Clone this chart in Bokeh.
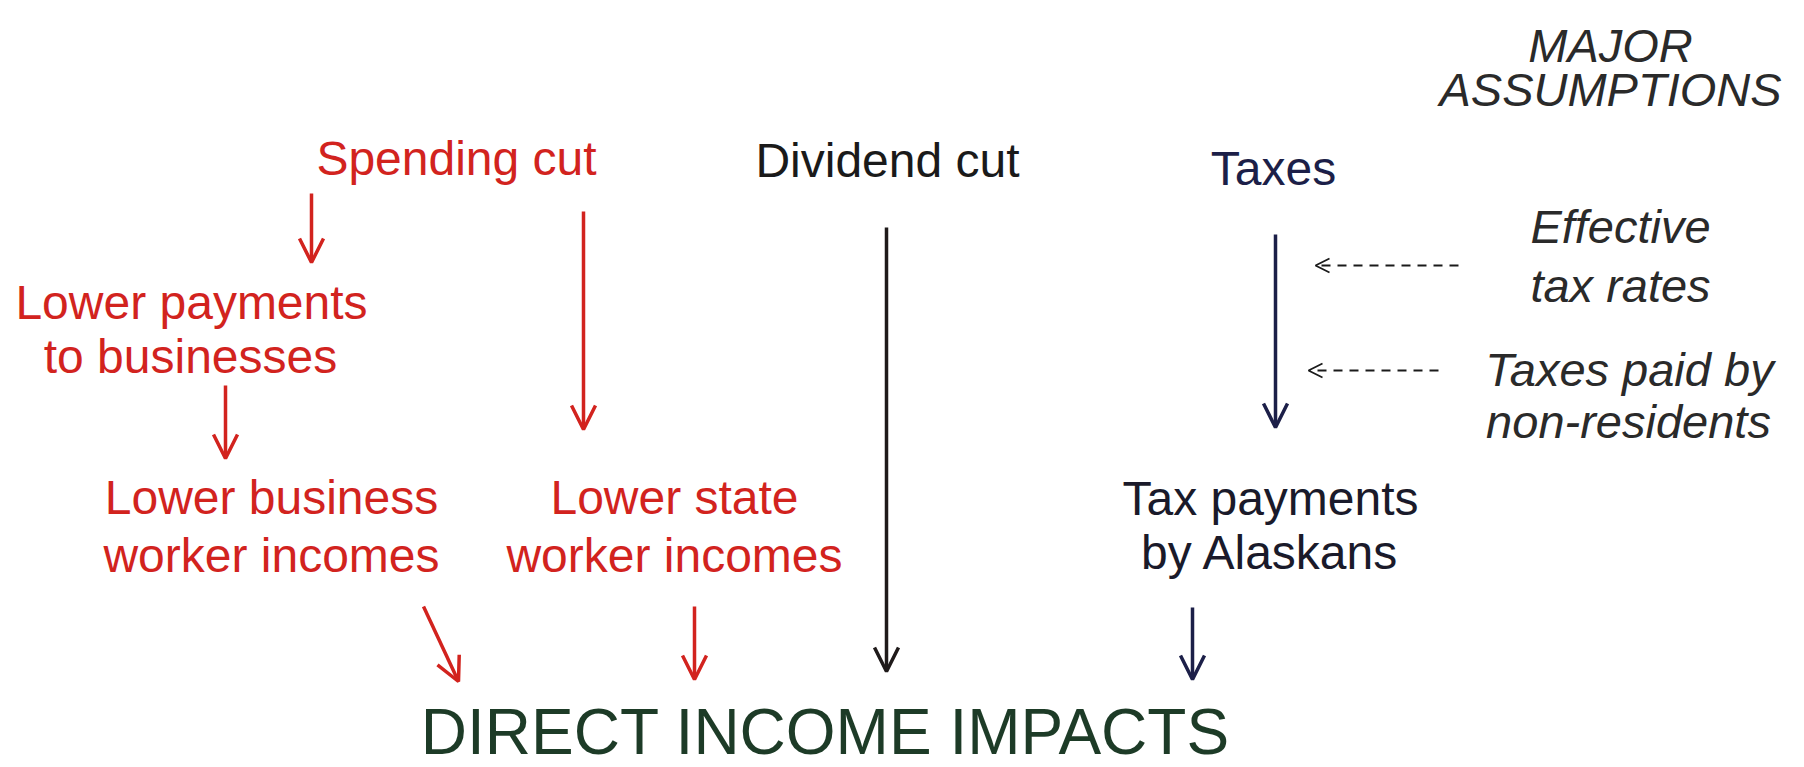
from bokeh.plotting import figure
from bokeh.models import ColumnDataSource, Arrow, OpenHead, Range1d
from bokeh.core.properties import value
from bokeh.embed import file_html
from bokeh.resources import INLINE

# ---- diagram content (positions in reference pixel space) ----
RED = "#d2231e"
NAVY = "#1c1f48"
BLACK = "#1a1a1a"
DARK = "#1f1a1a"
ITAL = "#2a2a2a"
GREEN = "#1d3b27"

# regular labels (one entry per line)
label_text = ["Spending cut", "Dividend cut", "Taxes",
              "Lower payments", "to businesses",
              "Lower business", "worker incomes",
              "Lower state", "worker incomes",
              "Tax payments", "by Alaskans"]
label_x = [456, 887, 1273, 191, 190, 271, 271, 674, 674, 1270, 1270]
label_y = [158, 160, 168, 302, 356, 497, 555, 497, 555, 498, 552]
label_color = [RED, BLACK, NAVY, RED, RED, RED, RED, RED, RED, "#1a1a2a", "#1a1a2a"]

# italic assumption labels
assume_text = ["MAJOR", "ASSUMPTIONS", "Effective", "tax rates",
               "Taxes paid by", "non-residents"]
assume_x = [1610, 1610, 1620, 1620, 1629, 1628]
assume_y = [45, 89, 226, 285, 369, 421]

title_text = ["DIRECT INCOME IMPACTS"]
title_x = [825]
title_y = [731]

# solid arrows
arrow_x0 = [311, 583, 225, 423, 694, 886, 1275, 1192]
arrow_y0 = [193, 211, 385, 606, 606, 227, 234, 607]
arrow_x1 = [311, 583, 225, 458, 694, 886, 1275, 1192]
arrow_y1 = [262, 429, 458, 681, 679, 671, 427, 679]
arrow_color = [RED, RED, RED, RED, RED, DARK, NAVY, NAVY]

# dashed arrows (assumption -> tax flow)
dash_x0 = [1458, 1438]
dash_y0 = [265, 370]
dash_x1 = [1315, 1308]
dash_y1 = [265, 370]

W, H = 1804, 767
p = figure(width=W, height=H, output_backend="svg", toolbar_location=None,
           x_range=Range1d(0, W), y_range=Range1d(H, 0),
           min_border=0, min_border_left=0, min_border_right=0,
           min_border_top=0, min_border_bottom=0)
p.axis.visible = False
p.grid.visible = False
p.outline_line_color = None
p.background_fill_color = "white"
p.border_fill_color = "white"

FONT = value("Liberation Sans")

src = ColumnDataSource(dict(x=label_x, y=label_y, t=label_text, c=label_color))
p.text(x="x", y="y", text="t", source=src, text_color="c",
       text_font=FONT, text_font_size="48px", text_align="center",
       text_baseline="alphabetic")

src2 = ColumnDataSource(dict(x=assume_x, y=assume_y, t=assume_text))
p.text(x="x", y="y", text="t", source=src2, text_color=ITAL,
       text_font=FONT, text_font_size="47px", text_font_style="italic",
       text_align="center", text_baseline="alphabetic")

src3 = ColumnDataSource(dict(x=title_x, y=title_y, t=title_text))
p.text(x="x", y="y", text="t", source=src3, text_color=GREEN,
       text_font=FONT, text_font_size="64px", text_align="center",
       text_baseline="alphabetic")

for x0, y0, x1, y1, c in zip(arrow_x0, arrow_y0, arrow_x1, arrow_y1, arrow_color):
    p.add_layout(Arrow(end=OpenHead(size=24, line_color=c, line_width=3.5),
                       x_start=x0, y_start=y0, x_end=x1, y_end=y1,
                       line_color=c, line_width=3.5))

for x0, y0, x1, y1 in zip(dash_x0, dash_y0, dash_x1, dash_y1):
    p.add_layout(Arrow(end=OpenHead(size=14, line_color=BLACK, line_width=1.8),
                       x_start=x0, y_start=y0, x_end=x1, y_end=y1,
                       line_color=BLACK, line_width=1.8, line_dash="9 7"))

open("out.html", "w").write(file_html(p, INLINE))
